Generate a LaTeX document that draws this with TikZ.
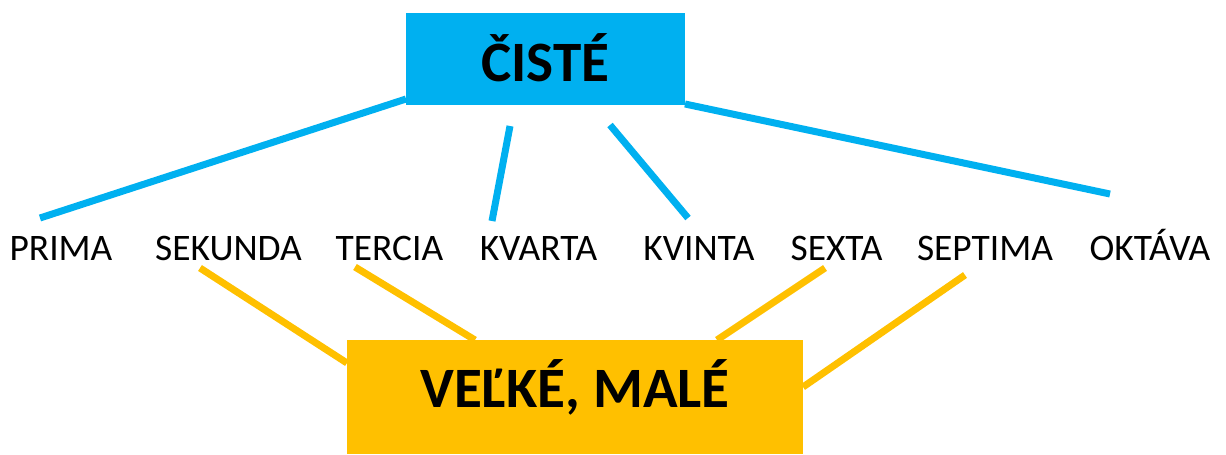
\documentclass[tikz,border=0pt]{standalone}
\usepackage{fontspec}
\setmainfont{Carlito}
\definecolor{cisteblue}{HTML}{00B0F0}
\definecolor{velkeorange}{HTML}{FFC000}

\begin{document}
\begin{tikzpicture}[x=0.02cm,y=-0.02cm]
	\tikzset{interval/.style={anchor=base,inner sep=0pt,font=\fontsize{21.3pt}{24pt}\selectfont}}
	\tikzset{groupbox/.style={inner sep=0pt,font=\bfseries\fontsize{32.5pt}{36pt}\selectfont}}
	\tikzset{blueline/.style={cisteblue,line width=0.14cm}}
	\tikzset{orangeline/.style={velkeorange,line width=0.14cm}}

	\useasboundingbox (0,0) rectangle (1226,454);

	\node[groupbox,fill=cisteblue,minimum width=5.6cm,minimum height=1.84cm,text height=0.91cm,text depth=0cm] (ciste) at (545.5,59) {ČISTÉ};
	\node[groupbox,fill=velkeorange,minimum width=9.12cm,minimum height=2.28cm,text height=0.73cm,text depth=0.32cm] (velke) at (575,397) {VEĽKÉ, MALÉ};

	\node[interval] (prima) at (61,260) {PRIMA};
	\node[interval] (sekunda) at (228.5,260) {SEKUNDA};
	\node[interval] (tercia) at (389.5,260) {TERCIA};
	\node[interval] (kvarta) at (538.5,260) {KVARTA};
	\node[interval] (kvinta) at (699,260) {KVINTA};
	\node[interval] (sexta) at (836.5,260) {SEXTA};
	\node[interval] (septima) at (985,260) {SEPTIMA};
	\node[interval] (oktava) at (1150,260) {OKTÁVA};

	% ciste
	\coordinate (c1) at (406,99);   \coordinate (toprima) at (40,218);
	\coordinate (c2) at (510,126);  \coordinate (tokvarta) at (492,221);
	\coordinate (c3) at (610,125);  \coordinate (tokvinta) at (688,218);
	\coordinate (c4) at (685,104);  \coordinate (tooktava) at (1110,194);
	\draw[blueline] (c1) -- (toprima);
	\draw[blueline] (c2) -- (tokvarta);
	\draw[blueline] (c3) -- (tokvinta);
	\draw[blueline] (c4) -- (tooktava);

	% velke, male
	\coordinate (fromsekunda) at (200,268); \coordinate (v1) at (347,363);
	\coordinate (fromtercia) at (355,267);  \coordinate (v2) at (475,340);
	\coordinate (fromsexta) at (825,268);   \coordinate (v3) at (717,340);
	\coordinate (fromseptima) at (965,275); \coordinate (v4) at (803,387);
	\draw[orangeline] (fromsekunda) -- (v1);
	\draw[orangeline] (fromtercia) -- (v2);
	\draw[orangeline] (fromsexta) -- (v3);
	\draw[orangeline] (fromseptima) -- (v4);

\end{tikzpicture}
\end{document}
